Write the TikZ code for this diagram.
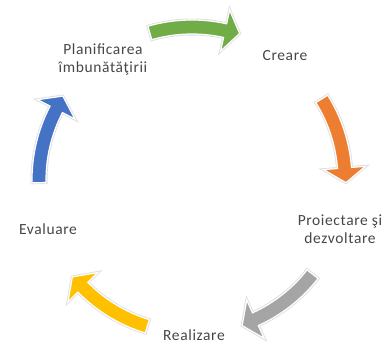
\documentclass[tikz,border=0pt]{standalone}
\usepackage{fontspec}
\setmainfont{Carlito}
\usetikzlibrary{calc}

\definecolor{stepgreen}{HTML}{70AD47}
\definecolor{steporange}{HTML}{ED7D31}
\definecolor{stepgray}{HTML}{A5A5A5}
\definecolor{stepyellow}{HTML}{FFC000}
\definecolor{stepblue}{HTML}{4472C4}

\tikzset{
  phase/.style={font=\fontsize{15.5}{18}\selectfont\addfontfeatures{LetterSpace=4},
    text=black!72, align=center, inner sep=0pt},
  blockarrow/.style={draw=white, line width=1.2pt, line join=miter,
    preaction={draw=black!12, line width=3pt}},
}

% curved block arrow on the cycle: colour, tail angle, tip angle (clockwise)
\newcommand\cyclearrow[3]{%
  \pgfmathsetmacro\headbase{#3+5.5}%
  \path[blockarrow, fill=#1]
    (#2:160pt) arc[start angle=#2, end angle=\headbase, radius=160pt]
    -- (\headbase:174pt) -- (#3:154pt) -- (\headbase:132pt)
    -- (\headbase:146pt) arc[start angle=\headbase, end angle=#2, radius=146pt]
    -- cycle;
}

\begin{document}
\begin{tikzpicture}[x=1pt, y=1pt]
  \fill[white] (0,0) rectangle (384,345);
  \useasboundingbox (0,0) rectangle (384,345);

  % arrows around the cycle
  \begin{scope}[shift={(192pt,165pt)}]
    \cyclearrow{stepgreen}{106}{72}
    \cyclearrow{steporange}{32}{-1}
    \cyclearrow{stepgray}{-38}{-71}
    \cyclearrow{stepyellow}{-107}{-141}
    \cyclearrow{stepblue}{181}{147}
  \end{scope}

  % phases
  \node[phase] (plan) at (103,286) {Planificarea\\îmbunătăţirii};
  \node[phase] (create) at (285,289.5) {Creare};
  \node[phase] (design) at (340,116) {Proiectare şi\\dezvoltare};
  \node[phase] (build) at (194,10) {Realizare};
  \node[phase] (review) at (48,116) {Evaluare};
\end{tikzpicture}
\end{document}
